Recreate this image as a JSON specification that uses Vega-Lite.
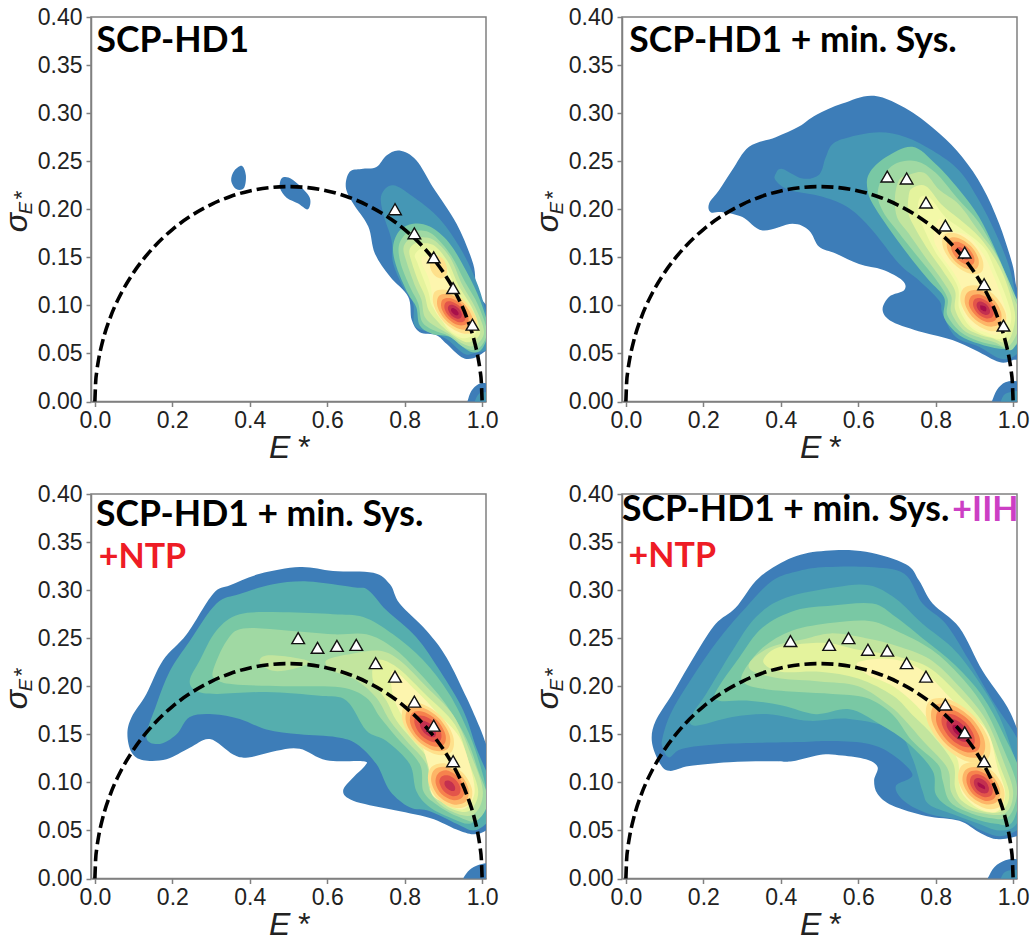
{"$schema":"https://vega.github.io/schema/vega-lite/v6.json","padding":{"left":-1,"top":5,"right":0,"bottom":0},"bounds":"flush","columns":2,"spacing":{"row":92,"column":136},
"config":{"view":{"stroke":"#808080","strokeWidth":1.5},"font":"Liberation Sans","axis":{"grid":false,"labelFont":"Liberation Sans","labelFontSize":23,"labelColor":"#222222","labelPadding":4,"tickSize":5,"tickColor":"#808080","tickWidth":1.5,"domainColor":"#808080","domainWidth":1.5,"titleFont":"Liberation Sans","titleFontSize":32,"titleFontStyle":"italic","titleFontWeight":"normal","titleColor":"#222222","labelOverlap":false,"labelFlush":false}},
"datasets":{
"arc":[{"x":0,"y":0},{"x":0.002,"y":0.02},{"x":0.005,"y":0.0315},{"x":0.01,"y":0.0445},{"x":0.02,"y":0.0626},{"x":0.04,"y":0.0876},{"x":0.07,"y":0.1141},{"x":0.1,"y":0.1342},{"x":0.15,"y":0.1597},{"x":0.2,"y":0.1789},{"x":0.25,"y":0.1936},{"x":0.3,"y":0.2049},{"x":0.35,"y":0.2133},{"x":0.4,"y":0.2191},{"x":0.45,"y":0.2225},{"x":0.5,"y":0.2236},{"x":0.55,"y":0.2225},{"x":0.6,"y":0.2191},{"x":0.65,"y":0.2133},{"x":0.7,"y":0.2049},{"x":0.75,"y":0.1936},{"x":0.8,"y":0.1789},{"x":0.85,"y":0.1597},{"x":0.9,"y":0.1342},{"x":0.93,"y":0.1141},{"x":0.96,"y":0.0876},{"x":0.98,"y":0.0626},{"x":0.99,"y":0.0445},{"x":0.995,"y":0.0315},{"x":0.998,"y":0.02},{"x":1,"y":0}],
"triA":[{"x":0.775,"y":0.2},{"x":0.825,"y":0.175},{"x":0.875,"y":0.15},{"x":0.925,"y":0.118},{"x":0.975,"y":0.08}],
"triB":[{"x":0.675,"y":0.234},{"x":0.725,"y":0.232},{"x":0.775,"y":0.207},{"x":0.825,"y":0.183},{"x":0.875,"y":0.155},{"x":0.925,"y":0.122},{"x":0.975,"y":0.079}],
"triC":[{"x":0.525,"y":0.25},{"x":0.575,"y":0.24},{"x":0.625,"y":0.242},{"x":0.675,"y":0.243},{"x":0.725,"y":0.224},{"x":0.775,"y":0.21},{"x":0.825,"y":0.184},{"x":0.875,"y":0.159},{"x":0.925,"y":0.122}],
"triD":[{"x":0.425,"y":0.247},{"x":0.525,"y":0.243},{"x":0.575,"y":0.25},{"x":0.625,"y":0.238},{"x":0.675,"y":0.237},{"x":0.725,"y":0.224},{"x":0.775,"y":0.21},{"x":0.825,"y":0.181},{"x":0.875,"y":0.152},{"x":0.925,"y":0.122}],
"A":[
{"l":0,"s":0,"x":0.38,"y":0.245},{"l":0,"s":0,"x":0.39,"y":0.235},{"l":0,"s":0,"x":0.385,"y":0.222},{"l":0,"s":0,"x":0.365,"y":0.221},{"l":0,"s":0,"x":0.352,"y":0.23},{"l":0,"s":0,"x":0.36,"y":0.24},
{"l":0,"s":1,"x":0.5,"y":0.233},{"l":0,"s":1,"x":0.525,"y":0.226},{"l":0,"s":1,"x":0.555,"y":0.212},{"l":0,"s":1,"x":0.55,"y":0.2},{"l":0,"s":1,"x":0.525,"y":0.206},{"l":0,"s":1,"x":0.495,"y":0.212},{"l":0,"s":1,"x":0.478,"y":0.222},{"l":0,"s":1,"x":0.482,"y":0.232},
{"l":0,"s":2,"x":0.955,"y":-0.01},{"l":0,"s":2,"x":0.962,"y":0},{"l":0,"s":2,"x":0.972,"y":0.011},{"l":0,"s":2,"x":0.99,"y":0.018},{"l":0,"s":2,"x":1.01,"y":0.019},{"l":0,"s":2,"x":1.04,"y":0.015},{"l":0,"s":2,"x":1.04,"y":-0.01},
{"l":0,"s":3,"x":0.787,"y":0.261},{"l":0,"s":3,"x":0.83,"y":0.251},{"l":0,"s":3,"x":0.873,"y":0.223},{"l":0,"s":3,"x":0.934,"y":0.185},{"l":0,"s":3,"x":0.977,"y":0.143},{"l":0,"s":3,"x":0.985,"y":0.116},{"l":0,"s":3,"x":1.011,"y":0.1},{"l":0,"s":3,"x":1.03,"y":0.09},{"l":0,"s":3,"x":1.03,"y":0.06},{"l":0,"s":3,"x":1.011,"y":0.053},{"l":0,"s":3,"x":0.977,"y":0.045},{"l":0,"s":3,"x":0.947,"y":0.046},{"l":0,"s":3,"x":0.908,"y":0.06},{"l":0,"s":3,"x":0.882,"y":0.069},{"l":0,"s":3,"x":0.839,"y":0.072},{"l":0,"s":3,"x":0.818,"y":0.085},{"l":0,"s":3,"x":0.809,"y":0.109},{"l":0,"s":3,"x":0.762,"y":0.13},{"l":0,"s":3,"x":0.723,"y":0.154},{"l":0,"s":3,"x":0.706,"y":0.182},{"l":0,"s":3,"x":0.667,"y":0.206},{"l":0,"s":3,"x":0.648,"y":0.223},{"l":0,"s":3,"x":0.658,"y":0.239},{"l":0,"s":3,"x":0.688,"y":0.242},{"l":0,"s":3,"x":0.727,"y":0.244},{"l":0,"s":3,"x":0.753,"y":0.256},
{"l":1,"s":2,"x":0.975,"y":-0.01},{"l":1,"s":2,"x":0.981,"y":0},{"l":1,"s":2,"x":0.992,"y":0.008},{"l":1,"s":2,"x":1.01,"y":0.01},{"l":1,"s":2,"x":1.04,"y":0.01},{"l":1,"s":2,"x":1.04,"y":-0.01},
{"l":1,"s":3,"x":0.77,"y":0.225},{"l":1,"s":3,"x":0.822,"y":0.213},{"l":1,"s":3,"x":0.89,"y":0.19},{"l":1,"s":3,"x":0.95,"y":0.155},{"l":1,"s":3,"x":0.99,"y":0.12},{"l":1,"s":3,"x":1.012,"y":0.091},{"l":1,"s":3,"x":1.03,"y":0.075},{"l":1,"s":3,"x":1.02,"y":0.056},{"l":1,"s":3,"x":0.977,"y":0.05},{"l":1,"s":3,"x":0.952,"y":0.05},{"l":1,"s":3,"x":0.908,"y":0.065},{"l":1,"s":3,"x":0.865,"y":0.072},{"l":1,"s":3,"x":0.826,"y":0.079},{"l":1,"s":3,"x":0.822,"y":0.102},{"l":1,"s":3,"x":0.796,"y":0.119},{"l":1,"s":3,"x":0.77,"y":0.144},{"l":1,"s":3,"x":0.766,"y":0.168},{"l":1,"s":3,"x":0.744,"y":0.196},{"l":1,"s":3,"x":0.74,"y":0.215},
{"l":3,"s":3,"x":0.822,"y":0.185},{"l":3,"s":3,"x":0.865,"y":0.182},{"l":3,"s":3,"x":0.915,"y":0.165},{"l":3,"s":3,"x":0.96,"y":0.135},{"l":3,"s":3,"x":0.995,"y":0.105},{"l":3,"s":3,"x":1.015,"y":0.076},{"l":3,"s":3,"x":1,"y":0.055},{"l":3,"s":3,"x":0.968,"y":0.052},{"l":3,"s":3,"x":0.917,"y":0.067},{"l":3,"s":3,"x":0.873,"y":0.07},{"l":3,"s":3,"x":0.839,"y":0.079},{"l":3,"s":3,"x":0.83,"y":0.098},{"l":3,"s":3,"x":0.809,"y":0.112},{"l":3,"s":3,"x":0.779,"y":0.14},{"l":3,"s":3,"x":0.77,"y":0.161},{"l":3,"s":3,"x":0.787,"y":0.178},
{"l":4,"s":3,"x":0.835,"y":0.178},{"l":4,"s":3,"x":0.872,"y":0.174},{"l":4,"s":3,"x":0.92,"y":0.152},{"l":4,"s":3,"x":0.955,"y":0.125},{"l":4,"s":3,"x":0.99,"y":0.1},{"l":4,"s":3,"x":1.012,"y":0.072},{"l":4,"s":3,"x":0.99,"y":0.055},{"l":4,"s":3,"x":0.955,"y":0.056},{"l":4,"s":3,"x":0.915,"y":0.068},{"l":4,"s":3,"x":0.875,"y":0.074},{"l":4,"s":3,"x":0.845,"y":0.083},{"l":4,"s":3,"x":0.835,"y":0.102},{"l":4,"s":3,"x":0.815,"y":0.118},{"l":4,"s":3,"x":0.79,"y":0.143},{"l":4,"s":3,"x":0.785,"y":0.162},{"l":4,"s":3,"x":0.805,"y":0.175},
{"l":5,"s":3,"x":0.84,"y":0.171},{"l":5,"s":3,"x":0.875,"y":0.168},{"l":5,"s":3,"x":0.917,"y":0.15},{"l":5,"s":3,"x":0.948,"y":0.122},{"l":5,"s":3,"x":0.982,"y":0.098},{"l":5,"s":3,"x":1.005,"y":0.072},{"l":5,"s":3,"x":0.98,"y":0.058},{"l":5,"s":3,"x":0.95,"y":0.06},{"l":5,"s":3,"x":0.915,"y":0.07},{"l":5,"s":3,"x":0.88,"y":0.078},{"l":5,"s":3,"x":0.852,"y":0.088},{"l":5,"s":3,"x":0.843,"y":0.106},{"l":5,"s":3,"x":0.825,"y":0.122},{"l":5,"s":3,"x":0.805,"y":0.145},{"l":5,"s":3,"x":0.797,"y":0.16},{"l":5,"s":3,"x":0.815,"y":0.17},
{"l":6,"s":3,"x":0.845,"y":0.165},{"l":6,"s":3,"x":0.877,"y":0.162},{"l":6,"s":3,"x":0.912,"y":0.145},{"l":6,"s":3,"x":0.94,"y":0.12},{"l":6,"s":3,"x":0.975,"y":0.097},{"l":6,"s":3,"x":0.995,"y":0.072},{"l":6,"s":3,"x":0.97,"y":0.062},{"l":6,"s":3,"x":0.945,"y":0.064},{"l":6,"s":3,"x":0.915,"y":0.072},{"l":6,"s":3,"x":0.888,"y":0.082},{"l":6,"s":3,"x":0.862,"y":0.095},{"l":6,"s":3,"x":0.852,"y":0.11},{"l":6,"s":3,"x":0.835,"y":0.125},{"l":6,"s":3,"x":0.818,"y":0.145},{"l":6,"s":3,"x":0.812,"y":0.157},{"l":6,"s":3,"x":0.825,"y":0.164},
{"l":7,"s":3,"x":0.85,"y":0.158},{"l":7,"s":3,"x":0.877,"y":0.156},{"l":7,"s":3,"x":0.91,"y":0.138},{"l":7,"s":3,"x":0.935,"y":0.115},{"l":7,"s":3,"x":0.968,"y":0.095},{"l":7,"s":3,"x":0.985,"y":0.073},{"l":7,"s":3,"x":0.96,"y":0.066},{"l":7,"s":3,"x":0.935,"y":0.068},{"l":7,"s":3,"x":0.91,"y":0.076},{"l":7,"s":3,"x":0.893,"y":0.088},{"l":7,"s":3,"x":0.87,"y":0.1},{"l":7,"s":3,"x":0.862,"y":0.113},{"l":7,"s":3,"x":0.848,"y":0.128},{"l":7,"s":3,"x":0.832,"y":0.145},{"l":7,"s":3,"x":0.826,"y":0.152},{"l":7,"s":3,"x":0.838,"y":0.158},
{"l":8,"s":3,"x":0.855,"y":0.151},{"l":8,"s":3,"x":0.878,"y":0.15},{"l":8,"s":3,"x":0.905,"y":0.132},{"l":8,"s":3,"x":0.925,"y":0.113},{"l":8,"s":3,"x":0.96,"y":0.095},{"l":8,"s":3,"x":0.975,"y":0.075},{"l":8,"s":3,"x":0.95,"y":0.07},{"l":8,"s":3,"x":0.925,"y":0.072},{"l":8,"s":3,"x":0.905,"y":0.08},{"l":8,"s":3,"x":0.88,"y":0.093},{"l":8,"s":3,"x":0.872,"y":0.104},{"l":8,"s":3,"x":0.868,"y":0.118},{"l":8,"s":3,"x":0.86,"y":0.13},{"l":8,"s":3,"x":0.845,"y":0.143},{"l":8,"s":3,"x":0.845,"y":0.15},
{"l":9,"s":3,"x":0.875,"y":0.152},{"l":9,"s":3,"x":0.9,"y":0.148},{"l":9,"s":3,"x":0.91,"y":0.135},{"l":9,"s":3,"x":0.895,"y":0.128},{"l":9,"s":3,"x":0.875,"y":0.132},{"l":9,"s":3,"x":0.865,"y":0.142},
{"l":9,"s":4,"x":0.98,"y":0.0727},{"l":9,"s":4,"x":0.985,"y":0.0865},{"l":9,"s":4,"x":0.956,"y":0.1043},{"l":9,"s":4,"x":0.913,"y":0.1155},{"l":9,"s":4,"x":0.878,"y":0.1141},{"l":9,"s":4,"x":0.875,"y":0.1003},{"l":9,"s":4,"x":0.902,"y":0.0825},{"l":9,"s":4,"x":0.946,"y":0.0713},
{"l":10,"s":4,"x":0.97,"y":0.0769},{"l":10,"s":4,"x":0.974,"y":0.0883},{"l":10,"s":4,"x":0.952,"y":0.1026},{"l":10,"s":4,"x":0.917,"y":0.1114},{"l":10,"s":4,"x":0.889,"y":0.1099},{"l":10,"s":4,"x":0.885,"y":0.0986},{"l":10,"s":4,"x":0.907,"y":0.0842},{"l":10,"s":4,"x":0.942,"y":0.0754},
{"l":11,"s":4,"x":0.961,"y":0.0808},{"l":11,"s":4,"x":0.964,"y":0.0893},{"l":11,"s":4,"x":0.948,"y":0.1007},{"l":11,"s":4,"x":0.92,"y":0.1073},{"l":11,"s":4,"x":0.898,"y":0.106},{"l":11,"s":4,"x":0.895,"y":0.0971},{"l":11,"s":4,"x":0.912,"y":0.0861},{"l":11,"s":4,"x":0.938,"y":0.0795},
{"l":12,"s":4,"x":0.954,"y":0.0837},{"l":12,"s":4,"x":0.956,"y":0.0903},{"l":12,"s":4,"x":0.943,"y":0.0987},{"l":12,"s":4,"x":0.922,"y":0.1038},{"l":12,"s":4,"x":0.906,"y":0.1031},{"l":12,"s":4,"x":0.903,"y":0.0966},{"l":12,"s":4,"x":0.916,"y":0.0881},{"l":12,"s":4,"x":0.937,"y":0.0828},
{"l":13,"s":4,"x":0.945,"y":0.0871},{"l":13,"s":4,"x":0.947,"y":0.0915},{"l":13,"s":4,"x":0.939,"y":0.097},{"l":13,"s":4,"x":0.925,"y":0.1005},{"l":13,"s":4,"x":0.914,"y":0.0997},{"l":13,"s":4,"x":0.912,"y":0.0956},{"l":13,"s":4,"x":0.92,"y":0.0898},{"l":13,"s":4,"x":0.934,"y":0.0863},
{"l":14,"s":4,"x":0.938,"y":0.09},{"l":14,"s":4,"x":0.939,"y":0.0923},{"l":14,"s":4,"x":0.934,"y":0.0953},{"l":14,"s":4,"x":0.927,"y":0.0971},{"l":14,"s":4,"x":0.921,"y":0.0968},{"l":14,"s":4,"x":0.92,"y":0.0943},{"l":14,"s":4,"x":0.925,"y":0.0915},{"l":14,"s":4,"x":0.932,"y":0.0897}
],
"B":[
{"l":0,"s":2,"x":0.935,"y":-0.01},{"l":0,"s":2,"x":0.945,"y":0},{"l":0,"s":2,"x":0.958,"y":0.012},{"l":0,"s":2,"x":0.98,"y":0.02},{"l":0,"s":2,"x":1.01,"y":0.021},{"l":0,"s":2,"x":1.04,"y":0.016},{"l":0,"s":2,"x":1.04,"y":-0.01},
{"l":0,"s":3,"x":0.641,"y":0.318},{"l":0,"s":3,"x":0.731,"y":0.303},{"l":0,"s":3,"x":0.809,"y":0.279},{"l":0,"s":3,"x":0.869,"y":0.254},{"l":0,"s":3,"x":0.921,"y":0.223},{"l":0,"s":3,"x":0.964,"y":0.185},{"l":0,"s":3,"x":0.998,"y":0.143},{"l":0,"s":3,"x":1.009,"y":0.119},{"l":0,"s":3,"x":1.03,"y":0.1},{"l":0,"s":3,"x":1.03,"y":0.05},{"l":0,"s":3,"x":0.998,"y":0.043},{"l":0,"s":3,"x":0.964,"y":0.041},{"l":0,"s":3,"x":0.904,"y":0.053},{"l":0,"s":3,"x":0.843,"y":0.064},{"l":0,"s":3,"x":0.766,"y":0.072},{"l":0,"s":3,"x":0.688,"y":0.083},{"l":0,"s":3,"x":0.663,"y":0.095},{"l":0,"s":3,"x":0.68,"y":0.109},{"l":0,"s":3,"x":0.719,"y":0.116},{"l":0,"s":3,"x":0.714,"y":0.126},{"l":0,"s":3,"x":0.663,"y":0.137},{"l":0,"s":3,"x":0.602,"y":0.143},{"l":0,"s":3,"x":0.542,"y":0.154},{"l":0,"s":3,"x":0.499,"y":0.161},{"l":0,"s":3,"x":0.473,"y":0.178},{"l":0,"s":3,"x":0.43,"y":0.185},{"l":0,"s":3,"x":0.353,"y":0.178},{"l":0,"s":3,"x":0.301,"y":0.192},{"l":0,"s":3,"x":0.25,"y":0.197},{"l":0,"s":3,"x":0.219,"y":0.197},{"l":0,"s":3,"x":0.215,"y":0.206},{"l":0,"s":3,"x":0.241,"y":0.22},{"l":0,"s":3,"x":0.275,"y":0.241},{"l":0,"s":3,"x":0.318,"y":0.265},{"l":0,"s":3,"x":0.387,"y":0.275},{"l":0,"s":3,"x":0.447,"y":0.286},{"l":0,"s":3,"x":0.491,"y":0.298},{"l":0,"s":3,"x":0.559,"y":0.31},
{"l":1,"s":2,"x":0.96,"y":-0.01},{"l":1,"s":2,"x":0.968,"y":0},{"l":1,"s":2,"x":0.98,"y":0.008},{"l":1,"s":2,"x":1.01,"y":0.011},{"l":1,"s":2,"x":1.04,"y":0.01},{"l":1,"s":2,"x":1.04,"y":-0.01},
{"l":1,"s":3,"x":0.654,"y":0.28},{"l":1,"s":3,"x":0.723,"y":0.275},{"l":1,"s":3,"x":0.792,"y":0.261},{"l":1,"s":3,"x":0.861,"y":0.24},{"l":1,"s":3,"x":0.912,"y":0.209},{"l":1,"s":3,"x":0.955,"y":0.175},{"l":1,"s":3,"x":0.99,"y":0.14},{"l":1,"s":3,"x":1.01,"y":0.105},{"l":1,"s":3,"x":1.03,"y":0.08},{"l":1,"s":3,"x":1.03,"y":0.06},{"l":1,"s":3,"x":0.998,"y":0.046},{"l":1,"s":3,"x":0.964,"y":0.045},{"l":1,"s":3,"x":0.912,"y":0.057},{"l":1,"s":3,"x":0.852,"y":0.067},{"l":1,"s":3,"x":0.818,"y":0.091},{"l":1,"s":3,"x":0.809,"y":0.105},{"l":1,"s":3,"x":0.757,"y":0.126},{"l":1,"s":3,"x":0.706,"y":0.143},{"l":1,"s":3,"x":0.637,"y":0.178},{"l":1,"s":3,"x":0.577,"y":0.201},{"l":1,"s":3,"x":0.508,"y":0.213},{"l":1,"s":3,"x":0.422,"y":0.22},{"l":1,"s":3,"x":0.387,"y":0.23},{"l":1,"s":3,"x":0.387,"y":0.237},{"l":1,"s":3,"x":0.404,"y":0.242},{"l":1,"s":3,"x":0.456,"y":0.232},{"l":1,"s":3,"x":0.499,"y":0.236},{"l":1,"s":3,"x":0.516,"y":0.254},{"l":1,"s":3,"x":0.534,"y":0.268},{"l":1,"s":3,"x":0.577,"y":0.275},
{"l":3,"s":3,"x":0.671,"y":0.254},{"l":3,"s":3,"x":0.74,"y":0.265},{"l":3,"s":3,"x":0.8,"y":0.247},{"l":3,"s":3,"x":0.861,"y":0.22},{"l":3,"s":3,"x":0.912,"y":0.192},{"l":3,"s":3,"x":0.955,"y":0.157},{"l":3,"s":3,"x":0.99,"y":0.122},{"l":3,"s":3,"x":1.01,"y":0.088},{"l":3,"s":3,"x":1.03,"y":0.07},{"l":3,"s":3,"x":1,"y":0.057},{"l":3,"s":3,"x":0.964,"y":0.055},{"l":3,"s":3,"x":0.912,"y":0.06},{"l":3,"s":3,"x":0.861,"y":0.069},{"l":3,"s":3,"x":0.822,"y":0.087},{"l":3,"s":3,"x":0.822,"y":0.108},{"l":3,"s":3,"x":0.783,"y":0.126},{"l":3,"s":3,"x":0.74,"y":0.147},{"l":3,"s":3,"x":0.688,"y":0.175},{"l":3,"s":3,"x":0.641,"y":0.203},{"l":3,"s":3,"x":0.624,"y":0.22},{"l":3,"s":3,"x":0.628,"y":0.237},
{"l":4,"s":3,"x":0.7,"y":0.248},{"l":4,"s":3,"x":0.75,"y":0.25},{"l":4,"s":3,"x":0.8,"y":0.238},{"l":4,"s":3,"x":0.855,"y":0.212},{"l":4,"s":3,"x":0.91,"y":0.187},{"l":4,"s":3,"x":0.955,"y":0.155},{"l":4,"s":3,"x":1,"y":0.115},{"l":4,"s":3,"x":1.025,"y":0.085},{"l":4,"s":3,"x":1,"y":0.055},{"l":4,"s":3,"x":0.96,"y":0.058},{"l":4,"s":3,"x":0.91,"y":0.063},{"l":4,"s":3,"x":0.865,"y":0.072},{"l":4,"s":3,"x":0.83,"y":0.09},{"l":4,"s":3,"x":0.83,"y":0.108},{"l":4,"s":3,"x":0.795,"y":0.13},{"l":4,"s":3,"x":0.755,"y":0.15},{"l":4,"s":3,"x":0.7,"y":0.178},{"l":4,"s":3,"x":0.665,"y":0.197},{"l":4,"s":3,"x":0.65,"y":0.215},{"l":4,"s":3,"x":0.665,"y":0.235},
{"l":5,"s":3,"x":0.725,"y":0.235},{"l":5,"s":3,"x":0.77,"y":0.238},{"l":5,"s":3,"x":0.81,"y":0.22},{"l":5,"s":3,"x":0.86,"y":0.205},{"l":5,"s":3,"x":0.91,"y":0.178},{"l":5,"s":3,"x":0.96,"y":0.15},{"l":5,"s":3,"x":1,"y":0.11},{"l":5,"s":3,"x":1.02,"y":0.085},{"l":5,"s":3,"x":0.99,"y":0.058},{"l":5,"s":3,"x":0.95,"y":0.062},{"l":5,"s":3,"x":0.91,"y":0.067},{"l":5,"s":3,"x":0.87,"y":0.075},{"l":5,"s":3,"x":0.84,"y":0.093},{"l":5,"s":3,"x":0.84,"y":0.11},{"l":5,"s":3,"x":0.81,"y":0.13},{"l":5,"s":3,"x":0.77,"y":0.152},{"l":5,"s":3,"x":0.73,"y":0.175},{"l":5,"s":3,"x":0.7,"y":0.192},{"l":5,"s":3,"x":0.695,"y":0.213},{"l":5,"s":3,"x":0.705,"y":0.23},
{"l":6,"s":3,"x":0.74,"y":0.222},{"l":6,"s":3,"x":0.775,"y":0.224},{"l":6,"s":3,"x":0.815,"y":0.205},{"l":6,"s":3,"x":0.86,"y":0.19},{"l":6,"s":3,"x":0.915,"y":0.17},{"l":6,"s":3,"x":0.965,"y":0.14},{"l":6,"s":3,"x":0.995,"y":0.108},{"l":6,"s":3,"x":1.005,"y":0.085},{"l":6,"s":3,"x":0.985,"y":0.062},{"l":6,"s":3,"x":0.945,"y":0.066},{"l":6,"s":3,"x":0.91,"y":0.07},{"l":6,"s":3,"x":0.875,"y":0.078},{"l":6,"s":3,"x":0.85,"y":0.096},{"l":6,"s":3,"x":0.85,"y":0.115},{"l":6,"s":3,"x":0.82,"y":0.135},{"l":6,"s":3,"x":0.785,"y":0.155},{"l":6,"s":3,"x":0.75,"y":0.178},{"l":6,"s":3,"x":0.73,"y":0.195},{"l":6,"s":3,"x":0.73,"y":0.213},
{"l":7,"s":3,"x":0.77,"y":0.214},{"l":7,"s":3,"x":0.79,"y":0.21},{"l":7,"s":3,"x":0.825,"y":0.192},{"l":7,"s":3,"x":0.865,"y":0.18},{"l":7,"s":3,"x":0.925,"y":0.16},{"l":7,"s":3,"x":0.955,"y":0.135},{"l":7,"s":3,"x":0.985,"y":0.105},{"l":7,"s":3,"x":0.995,"y":0.085},{"l":7,"s":3,"x":0.975,"y":0.066},{"l":7,"s":3,"x":0.935,"y":0.068},{"l":7,"s":3,"x":0.905,"y":0.073},{"l":7,"s":3,"x":0.88,"y":0.082},{"l":7,"s":3,"x":0.86,"y":0.098},{"l":7,"s":3,"x":0.858,"y":0.118},{"l":7,"s":3,"x":0.83,"y":0.138},{"l":7,"s":3,"x":0.8,"y":0.155},{"l":7,"s":3,"x":0.775,"y":0.175},{"l":7,"s":3,"x":0.755,"y":0.195},{"l":7,"s":3,"x":0.757,"y":0.21},
{"l":8,"s":3,"x":0.81,"y":0.19},{"l":8,"s":3,"x":0.84,"y":0.178},{"l":8,"s":3,"x":0.885,"y":0.172},{"l":8,"s":3,"x":0.925,"y":0.152},{"l":8,"s":3,"x":0.95,"y":0.13},{"l":8,"s":3,"x":0.975,"y":0.103},{"l":8,"s":3,"x":0.985,"y":0.085},{"l":8,"s":3,"x":0.96,"y":0.07},{"l":8,"s":3,"x":0.93,"y":0.072},{"l":8,"s":3,"x":0.895,"y":0.078},{"l":8,"s":3,"x":0.87,"y":0.095},{"l":8,"s":3,"x":0.866,"y":0.118},{"l":8,"s":3,"x":0.845,"y":0.135},{"l":8,"s":3,"x":0.815,"y":0.152},{"l":8,"s":3,"x":0.795,"y":0.17},
{"l":9,"s":3,"x":0.918,"y":0.1346},{"l":9,"s":3,"x":0.921,"y":0.1475},{"l":9,"s":3,"x":0.895,"y":0.1642},{"l":9,"s":3,"x":0.854,"y":0.1747},{"l":9,"s":3,"x":0.822,"y":0.1734},{"l":9,"s":3,"x":0.819,"y":0.1605},{"l":9,"s":3,"x":0.845,"y":0.1438},{"l":9,"s":3,"x":0.886,"y":0.1333},
{"l":9,"s":4,"x":0.974,"y":0.0763},{"l":9,"s":4,"x":0.981,"y":0.0913},{"l":9,"s":4,"x":0.954,"y":0.1096},{"l":9,"s":4,"x":0.91,"y":0.1203},{"l":9,"s":4,"x":0.872,"y":0.1177},{"l":9,"s":4,"x":0.865,"y":0.1027},{"l":9,"s":4,"x":0.892,"y":0.0844},{"l":9,"s":4,"x":0.937,"y":0.0737},
{"l":10,"s":3,"x":0.907,"y":0.1389},{"l":10,"s":3,"x":0.91,"y":0.149},{"l":10,"s":3,"x":0.89,"y":0.162},{"l":10,"s":3,"x":0.858,"y":0.1702},{"l":10,"s":3,"x":0.833,"y":0.1691},{"l":10,"s":3,"x":0.83,"y":0.159},{"l":10,"s":3,"x":0.85,"y":0.146},{"l":10,"s":3,"x":0.882,"y":0.1378},
{"l":10,"s":4,"x":0.964,"y":0.0805},{"l":10,"s":4,"x":0.969,"y":0.0925},{"l":10,"s":4,"x":0.948,"y":0.1072},{"l":10,"s":4,"x":0.915,"y":0.1157},{"l":10,"s":4,"x":0.882,"y":0.1135},{"l":10,"s":4,"x":0.876,"y":0.1015},{"l":10,"s":4,"x":0.898,"y":0.0868},{"l":10,"s":4,"x":0.934,"y":0.0783},
{"l":11,"s":3,"x":0.897,"y":0.1431},{"l":11,"s":3,"x":0.899,"y":0.1505},{"l":11,"s":3,"x":0.884,"y":0.1598},{"l":11,"s":3,"x":0.861,"y":0.1657},{"l":11,"s":3,"x":0.843,"y":0.1649},{"l":11,"s":3,"x":0.841,"y":0.1575},{"l":11,"s":3,"x":0.856,"y":0.1482},{"l":11,"s":3,"x":0.879,"y":0.1423},
{"l":11,"s":4,"x":0.954,"y":0.0844},{"l":11,"s":4,"x":0.958,"y":0.0937},{"l":11,"s":4,"x":0.942,"y":0.1048},{"l":11,"s":4,"x":0.915,"y":0.1113},{"l":11,"s":4,"x":0.892,"y":0.1096},{"l":11,"s":4,"x":0.886,"y":0.1003},{"l":11,"s":4,"x":0.904,"y":0.0892},{"l":11,"s":4,"x":0.931,"y":0.0827},
{"l":12,"s":3,"x":0.885,"y":0.1479},{"l":12,"s":3,"x":0.886,"y":0.1517},{"l":12,"s":3,"x":0.877,"y":0.1569},{"l":12,"s":3,"x":0.865,"y":0.1603},{"l":12,"s":3,"x":0.855,"y":0.1601},{"l":12,"s":3,"x":0.854,"y":0.156},{"l":12,"s":3,"x":0.863,"y":0.1511},{"l":12,"s":3,"x":0.875,"y":0.1477},
{"l":12,"s":4,"x":0.946,"y":0.0878},{"l":12,"s":4,"x":0.949,"y":0.0947},{"l":12,"s":4,"x":0.937,"y":0.1028},{"l":12,"s":4,"x":0.917,"y":0.1075},{"l":12,"s":4,"x":0.9,"y":0.1062},{"l":12,"s":4,"x":0.897,"y":0.0993},{"l":12,"s":4,"x":0.909,"y":0.0912},{"l":12,"s":4,"x":0.929,"y":0.0865},
{"l":13,"s":4,"x":0.938,"y":0.0909},{"l":13,"s":4,"x":0.94,"y":0.0952},{"l":13,"s":4,"x":0.932,"y":0.1006},{"l":13,"s":4,"x":0.919,"y":0.1038},{"l":13,"s":4,"x":0.908,"y":0.1031},{"l":13,"s":4,"x":0.906,"y":0.0988},{"l":13,"s":4,"x":0.914,"y":0.0934},{"l":13,"s":4,"x":0.927,"y":0.0902},
{"l":14,"s":4,"x":0.93,"y":0.0941},{"l":14,"s":4,"x":0.931,"y":0.097},{"l":14,"s":4,"x":0.927,"y":0.099},{"l":14,"s":4,"x":0.918,"y":0.1},{"l":14,"s":4,"x":0.915,"y":0.0995},{"l":14,"s":4,"x":0.916,"y":0.096},{"l":14,"s":4,"x":0.92,"y":0.095},{"l":14,"s":4,"x":0.926,"y":0.0938}
],
"C":[
{"l":0,"s":2,"x":0.94,"y":-0.01},{"l":0,"s":2,"x":0.951,"y":0},{"l":0,"s":2,"x":0.968,"y":0.009},{"l":0,"s":2,"x":0.99,"y":0.014},{"l":0,"s":2,"x":1.02,"y":0.016},{"l":0,"s":2,"x":1.04,"y":0.012},{"l":0,"s":2,"x":1.04,"y":-0.01},
{"l":0,"s":3,"x":0.529,"y":0.324},{"l":0,"s":3,"x":0.615,"y":0.32},{"l":0,"s":3,"x":0.719,"y":0.318},{"l":0,"s":3,"x":0.762,"y":0.306},{"l":0,"s":3,"x":0.787,"y":0.286},{"l":0,"s":3,"x":0.856,"y":0.258},{"l":0,"s":3,"x":0.908,"y":0.23},{"l":0,"s":3,"x":0.96,"y":0.188},{"l":0,"s":3,"x":0.994,"y":0.157},{"l":0,"s":3,"x":1.01,"y":0.14},{"l":0,"s":3,"x":1.03,"y":0.12},{"l":0,"s":3,"x":1.03,"y":0.06},{"l":0,"s":3,"x":1.01,"y":0.05},{"l":0,"s":3,"x":0.977,"y":0.046},{"l":0,"s":3,"x":0.934,"y":0.051},{"l":0,"s":3,"x":0.865,"y":0.063},{"l":0,"s":3,"x":0.762,"y":0.072},{"l":0,"s":3,"x":0.667,"y":0.081},{"l":0,"s":3,"x":0.641,"y":0.091},{"l":0,"s":3,"x":0.667,"y":0.105},{"l":0,"s":3,"x":0.697,"y":0.117},{"l":0,"s":3,"x":0.693,"y":0.122},{"l":0,"s":3,"x":0.598,"y":0.123},{"l":0,"s":3,"x":0.529,"y":0.135},{"l":0,"s":3,"x":0.469,"y":0.133},{"l":0,"s":3,"x":0.396,"y":0.126},{"l":0,"s":3,"x":0.357,"y":0.129},{"l":0,"s":3,"x":0.297,"y":0.145},{"l":0,"s":3,"x":0.245,"y":0.136},{"l":0,"s":3,"x":0.185,"y":0.124},{"l":0,"s":3,"x":0.125,"y":0.123},{"l":0,"s":3,"x":0.095,"y":0.131},{"l":0,"s":3,"x":0.084,"y":0.15},{"l":0,"s":3,"x":0.095,"y":0.168},{"l":0,"s":3,"x":0.133,"y":0.192},{"l":0,"s":3,"x":0.176,"y":0.227},{"l":0,"s":3,"x":0.237,"y":0.254},{"l":0,"s":3,"x":0.305,"y":0.296},{"l":0,"s":3,"x":0.349,"y":0.305},{"l":0,"s":3,"x":0.426,"y":0.317},
{"l":2,"s":3,"x":0.55,"y":0.309},{"l":2,"s":3,"x":0.667,"y":0.303},{"l":2,"s":3,"x":0.706,"y":0.3},{"l":2,"s":3,"x":0.753,"y":0.279},{"l":2,"s":3,"x":0.83,"y":0.251},{"l":2,"s":3,"x":0.891,"y":0.216},{"l":2,"s":3,"x":0.951,"y":0.175},{"l":2,"s":3,"x":0.985,"y":0.136},{"l":2,"s":3,"x":1.01,"y":0.112},{"l":2,"s":3,"x":1.03,"y":0.09},{"l":2,"s":3,"x":1.03,"y":0.07},{"l":2,"s":3,"x":1.01,"y":0.057},{"l":2,"s":3,"x":0.977,"y":0.05},{"l":2,"s":3,"x":0.934,"y":0.057},{"l":2,"s":3,"x":0.865,"y":0.07},{"l":2,"s":3,"x":0.813,"y":0.074},{"l":2,"s":3,"x":0.762,"y":0.091},{"l":2,"s":3,"x":0.727,"y":0.119},{"l":2,"s":3,"x":0.676,"y":0.14},{"l":2,"s":3,"x":0.624,"y":0.147},{"l":2,"s":3,"x":0.529,"y":0.15},{"l":2,"s":3,"x":0.443,"y":0.155},{"l":2,"s":3,"x":0.374,"y":0.166},{"l":2,"s":3,"x":0.305,"y":0.171},{"l":2,"s":3,"x":0.245,"y":0.168},{"l":2,"s":3,"x":0.211,"y":0.15},{"l":2,"s":3,"x":0.168,"y":0.14},{"l":2,"s":3,"x":0.133,"y":0.147},{"l":2,"s":3,"x":0.159,"y":0.181},{"l":2,"s":3,"x":0.194,"y":0.216},{"l":2,"s":3,"x":0.245,"y":0.247},{"l":2,"s":3,"x":0.314,"y":0.286},{"l":2,"s":3,"x":0.374,"y":0.296},{"l":2,"s":3,"x":0.46,"y":0.306},
{"l":3,"s":3,"x":0.374,"y":0.275},{"l":3,"s":3,"x":0.486,"y":0.277},{"l":3,"s":3,"x":0.615,"y":0.275},{"l":3,"s":3,"x":0.693,"y":0.272},{"l":3,"s":3,"x":0.77,"y":0.254},{"l":3,"s":3,"x":0.848,"y":0.227},{"l":3,"s":3,"x":0.915,"y":0.192},{"l":3,"s":3,"x":0.965,"y":0.152},{"l":3,"s":3,"x":0.994,"y":0.119},{"l":3,"s":3,"x":1.01,"y":0.091},{"l":3,"s":3,"x":1,"y":0.067},{"l":3,"s":3,"x":0.968,"y":0.057},{"l":3,"s":3,"x":0.925,"y":0.062},{"l":3,"s":3,"x":0.865,"y":0.074},{"l":3,"s":3,"x":0.83,"y":0.091},{"l":3,"s":3,"x":0.813,"y":0.119},{"l":3,"s":3,"x":0.753,"y":0.143},{"l":3,"s":3,"x":0.701,"y":0.154},{"l":3,"s":3,"x":0.65,"y":0.185},{"l":3,"s":3,"x":0.581,"y":0.19},{"l":3,"s":3,"x":0.443,"y":0.194},{"l":3,"s":3,"x":0.314,"y":0.192},{"l":3,"s":3,"x":0.262,"y":0.195},{"l":3,"s":3,"x":0.245,"y":0.206},{"l":3,"s":3,"x":0.271,"y":0.227},{"l":3,"s":3,"x":0.314,"y":0.258},
{"l":4,"s":3,"x":0.383,"y":0.26},{"l":4,"s":3,"x":0.495,"y":0.258},{"l":4,"s":3,"x":0.615,"y":0.254},{"l":4,"s":3,"x":0.701,"y":0.254},{"l":4,"s":3,"x":0.77,"y":0.24},{"l":4,"s":3,"x":0.835,"y":0.215},{"l":4,"s":3,"x":0.905,"y":0.182},{"l":4,"s":3,"x":0.96,"y":0.145},{"l":4,"s":3,"x":0.99,"y":0.112},{"l":4,"s":3,"x":1.015,"y":0.081},{"l":4,"s":3,"x":0.985,"y":0.06},{"l":4,"s":3,"x":0.934,"y":0.065},{"l":4,"s":3,"x":0.882,"y":0.077},{"l":4,"s":3,"x":0.848,"y":0.091},{"l":4,"s":3,"x":0.839,"y":0.119},{"l":4,"s":3,"x":0.779,"y":0.147},{"l":4,"s":3,"x":0.736,"y":0.168},{"l":4,"s":3,"x":0.701,"y":0.188},{"l":4,"s":3,"x":0.633,"y":0.199},{"l":4,"s":3,"x":0.486,"y":0.2},{"l":4,"s":3,"x":0.357,"y":0.202},{"l":4,"s":3,"x":0.314,"y":0.207},{"l":4,"s":3,"x":0.305,"y":0.216},{"l":4,"s":3,"x":0.34,"y":0.247},
{"l":5,"s":2,"x":0.443,"y":0.232},{"l":5,"s":2,"x":0.512,"y":0.23},{"l":5,"s":2,"x":0.555,"y":0.225},{"l":5,"s":2,"x":0.512,"y":0.218},{"l":5,"s":2,"x":0.46,"y":0.216},{"l":5,"s":2,"x":0.426,"y":0.225},
{"l":5,"s":3,"x":0.598,"y":0.227},{"l":5,"s":3,"x":0.667,"y":0.234},{"l":5,"s":3,"x":0.736,"y":0.237},{"l":5,"s":3,"x":0.787,"y":0.227},{"l":5,"s":3,"x":0.855,"y":0.2},{"l":5,"s":3,"x":0.925,"y":0.17},{"l":5,"s":3,"x":0.97,"y":0.13},{"l":5,"s":3,"x":1.002,"y":0.09},{"l":5,"s":3,"x":0.975,"y":0.066},{"l":5,"s":3,"x":0.91,"y":0.072},{"l":5,"s":3,"x":0.865,"y":0.091},{"l":5,"s":3,"x":0.856,"y":0.119},{"l":5,"s":3,"x":0.805,"y":0.143},{"l":5,"s":3,"x":0.762,"y":0.164},{"l":5,"s":3,"x":0.727,"y":0.188},{"l":5,"s":3,"x":0.676,"y":0.206},{"l":5,"s":3,"x":0.615,"y":0.216},
{"l":6,"s":3,"x":0.727,"y":0.227},{"l":6,"s":3,"x":0.779,"y":0.22},{"l":6,"s":3,"x":0.85,"y":0.193},{"l":6,"s":3,"x":0.93,"y":0.16},{"l":6,"s":3,"x":0.965,"y":0.122},{"l":6,"s":3,"x":0.99,"y":0.09},{"l":6,"s":3,"x":0.965,"y":0.07},{"l":6,"s":3,"x":0.91,"y":0.075},{"l":6,"s":3,"x":0.878,"y":0.091},{"l":6,"s":3,"x":0.869,"y":0.119},{"l":6,"s":3,"x":0.822,"y":0.143},{"l":6,"s":3,"x":0.779,"y":0.164},{"l":6,"s":3,"x":0.753,"y":0.185},{"l":6,"s":3,"x":0.718,"y":0.206},
{"l":8,"s":3,"x":0.77,"y":0.216},{"l":8,"s":3,"x":0.83,"y":0.195},{"l":8,"s":3,"x":0.885,"y":0.172},{"l":8,"s":3,"x":0.94,"y":0.148},{"l":8,"s":3,"x":0.97,"y":0.115},{"l":8,"s":3,"x":0.98,"y":0.088},{"l":8,"s":3,"x":0.95,"y":0.072},{"l":8,"s":3,"x":0.895,"y":0.08},{"l":8,"s":3,"x":0.868,"y":0.09},{"l":8,"s":3,"x":0.862,"y":0.115},{"l":8,"s":3,"x":0.835,"y":0.148},{"l":8,"s":3,"x":0.8,"y":0.165},{"l":8,"s":3,"x":0.77,"y":0.19},
{"l":9,"s":3,"x":0.92,"y":0.1313},{"l":9,"s":3,"x":0.925,"y":0.148},{"l":9,"s":3,"x":0.893,"y":0.169},{"l":9,"s":3,"x":0.841,"y":0.182},{"l":9,"s":3,"x":0.8,"y":0.1799},{"l":9,"s":3,"x":0.795,"y":0.1632},{"l":9,"s":3,"x":0.827,"y":0.1422},{"l":9,"s":3,"x":0.879,"y":0.1292},
{"l":9,"s":4,"x":0.965,"y":0.0771},{"l":9,"s":4,"x":0.974,"y":0.0923},{"l":9,"s":4,"x":0.95,"y":0.1099},{"l":9,"s":4,"x":0.907,"y":0.1195},{"l":9,"s":4,"x":0.869,"y":0.1159},{"l":9,"s":4,"x":0.861,"y":0.1007},{"l":9,"s":4,"x":0.884,"y":0.0831},{"l":9,"s":4,"x":0.928,"y":0.0735},
{"l":10,"s":3,"x":0.911,"y":0.1349},{"l":10,"s":3,"x":0.916,"y":0.149},{"l":10,"s":3,"x":0.888,"y":0.167},{"l":10,"s":3,"x":0.844,"y":0.1781},{"l":10,"s":3,"x":0.809,"y":0.1763},{"l":10,"s":3,"x":0.804,"y":0.1621},{"l":10,"s":3,"x":0.832,"y":0.1442},{"l":10,"s":3,"x":0.876,"y":0.1331},
{"l":10,"s":4,"x":0.958,"y":0.08},{"l":10,"s":4,"x":0.965,"y":0.0928},{"l":10,"s":4,"x":0.945,"y":0.1077},{"l":10,"s":4,"x":0.908,"y":0.1159},{"l":10,"s":4,"x":0.876,"y":0.113},{"l":10,"s":4,"x":0.869,"y":0.1002},{"l":10,"s":4,"x":0.889,"y":0.0853},{"l":10,"s":4,"x":0.926,"y":0.0771},
{"l":11,"s":3,"x":0.901,"y":0.1391},{"l":11,"s":3,"x":0.905,"y":0.15},{"l":11,"s":3,"x":0.883,"y":0.1648},{"l":11,"s":3,"x":0.847,"y":0.1736},{"l":11,"s":3,"x":0.819,"y":0.1721},{"l":11,"s":3,"x":0.815,"y":0.1608},{"l":11,"s":3,"x":0.837,"y":0.1464},{"l":11,"s":3,"x":0.873,"y":0.1376},
{"l":11,"s":4,"x":0.948,"y":0.0839},{"l":11,"s":4,"x":0.954,"y":0.0937},{"l":11,"s":4,"x":0.939,"y":0.1052},{"l":11,"s":4,"x":0.91,"y":0.1124},{"l":11,"s":4,"x":0.886,"y":0.1091},{"l":11,"s":4,"x":0.88,"y":0.0994},{"l":11,"s":4,"x":0.895,"y":0.0878},{"l":11,"s":4,"x":0.924,"y":0.0816},
{"l":12,"s":3,"x":0.891,"y":0.143},{"l":12,"s":3,"x":0.894,"y":0.1515},{"l":12,"s":3,"x":0.877,"y":0.1624},{"l":12,"s":3,"x":0.85,"y":0.169},{"l":12,"s":3,"x":0.829,"y":0.1682},{"l":12,"s":3,"x":0.826,"y":0.1604},{"l":12,"s":3,"x":0.843,"y":0.1488},{"l":12,"s":3,"x":0.87,"y":0.1423},
{"l":12,"s":4,"x":0.94,"y":0.0873},{"l":12,"s":4,"x":0.944,"y":0.0943},{"l":12,"s":4,"x":0.932,"y":0.1026},{"l":12,"s":4,"x":0.911,"y":0.1073},{"l":12,"s":4,"x":0.894,"y":0.1057},{"l":12,"s":4,"x":0.89,"y":0.0993},{"l":12,"s":4,"x":0.902,"y":0.0904},{"l":12,"s":4,"x":0.922,"y":0.0858},
{"l":13,"s":3,"x":0.879,"y":0.1478},{"l":13,"s":3,"x":0.88,"y":0.1529},{"l":13,"s":3,"x":0.87,"y":0.1595},{"l":13,"s":3,"x":0.853,"y":0.1637},{"l":13,"s":3,"x":0.841,"y":0.1634},{"l":13,"s":3,"x":0.84,"y":0.1583},{"l":13,"s":3,"x":0.85,"y":0.1517},{"l":13,"s":3,"x":0.867,"y":0.1473},
{"l":13,"s":4,"x":0.929,"y":0.0916},{"l":13,"s":4,"x":0.93,"y":0.0951},{"l":13,"s":4,"x":0.924,"y":0.0994},{"l":13,"s":4,"x":0.913,"y":0.1019},{"l":13,"s":4,"x":0.905,"y":0.1014},{"l":13,"s":4,"x":0.903,"y":0.0979},{"l":13,"s":4,"x":0.91,"y":0.0936},{"l":13,"s":4,"x":0.921,"y":0.0911}
],
"D":[
{"l":0,"s":2,"x":0.92,"y":-0.01},{"l":0,"s":2,"x":0.934,"y":0},{"l":0,"s":2,"x":0.952,"y":0.012},{"l":0,"s":2,"x":0.98,"y":0.019},{"l":0,"s":2,"x":1.01,"y":0.02},{"l":0,"s":2,"x":1.04,"y":0.015},{"l":0,"s":2,"x":1.04,"y":-0.01},
{"l":0,"s":3,"x":0.516,"y":0.341},{"l":0,"s":3,"x":0.62,"y":0.34},{"l":0,"s":3,"x":0.723,"y":0.327},{"l":0,"s":3,"x":0.757,"y":0.31},{"l":0,"s":3,"x":0.792,"y":0.286},{"l":0,"s":3,"x":0.861,"y":0.261},{"l":0,"s":3,"x":0.921,"y":0.216},{"l":0,"s":3,"x":0.981,"y":0.181},{"l":0,"s":3,"x":1.009,"y":0.157},{"l":0,"s":3,"x":1.03,"y":0.13},{"l":0,"s":3,"x":1.03,"y":0.05},{"l":0,"s":3,"x":1.009,"y":0.044},{"l":0,"s":3,"x":0.955,"y":0.041},{"l":0,"s":3,"x":0.912,"y":0.048},{"l":0,"s":3,"x":0.861,"y":0.06},{"l":0,"s":3,"x":0.775,"y":0.065},{"l":0,"s":3,"x":0.688,"y":0.076},{"l":0,"s":3,"x":0.65,"y":0.088},{"l":0,"s":3,"x":0.641,"y":0.102},{"l":0,"s":3,"x":0.65,"y":0.116},{"l":0,"s":3,"x":0.62,"y":0.124},{"l":0,"s":3,"x":0.559,"y":0.128},{"l":0,"s":3,"x":0.508,"y":0.129},{"l":0,"s":3,"x":0.43,"y":0.122},{"l":0,"s":3,"x":0.379,"y":0.122},{"l":0,"s":3,"x":0.267,"y":0.121},{"l":0,"s":3,"x":0.164,"y":0.117},{"l":0,"s":3,"x":0.112,"y":0.112},{"l":0,"s":3,"x":0.086,"y":0.121},{"l":0,"s":3,"x":0.067,"y":0.143},{"l":0,"s":3,"x":0.077,"y":0.164},{"l":0,"s":3,"x":0.12,"y":0.192},{"l":0,"s":3,"x":0.181,"y":0.234},{"l":0,"s":3,"x":0.232,"y":0.265},{"l":0,"s":3,"x":0.284,"y":0.282},{"l":0,"s":3,"x":0.344,"y":0.313},{"l":0,"s":3,"x":0.43,"y":0.334},
{"l":1,"s":2,"x":0.96,"y":-0.01},{"l":1,"s":2,"x":0.968,"y":0},{"l":1,"s":2,"x":0.98,"y":0.007},{"l":1,"s":2,"x":1.01,"y":0.009},{"l":1,"s":2,"x":1.04,"y":0.008},{"l":1,"s":2,"x":1.04,"y":-0.01},
{"l":1,"s":3,"x":0.516,"y":0.324},{"l":1,"s":3,"x":0.628,"y":0.324},{"l":1,"s":3,"x":0.719,"y":0.317},{"l":1,"s":3,"x":0.766,"y":0.286},{"l":1,"s":3,"x":0.826,"y":0.265},{"l":1,"s":3,"x":0.886,"y":0.227},{"l":1,"s":3,"x":0.947,"y":0.185},{"l":1,"s":3,"x":1.009,"y":0.147},{"l":1,"s":3,"x":1.03,"y":0.12},{"l":1,"s":3,"x":1.03,"y":0.06},{"l":1,"s":3,"x":1.009,"y":0.05},{"l":1,"s":3,"x":0.964,"y":0.044},{"l":1,"s":3,"x":0.912,"y":0.051},{"l":1,"s":3,"x":0.869,"y":0.06},{"l":1,"s":3,"x":0.783,"y":0.067},{"l":1,"s":3,"x":0.72,"y":0.08},{"l":1,"s":3,"x":0.697,"y":0.096},{"l":1,"s":3,"x":0.74,"y":0.108},{"l":1,"s":3,"x":0.688,"y":0.129},{"l":1,"s":3,"x":0.628,"y":0.14},{"l":1,"s":3,"x":0.534,"y":0.143},{"l":1,"s":3,"x":0.447,"y":0.142},{"l":1,"s":3,"x":0.25,"y":0.14},{"l":1,"s":3,"x":0.146,"y":0.135},{"l":1,"s":3,"x":0.112,"y":0.126},{"l":1,"s":3,"x":0.095,"y":0.136},{"l":1,"s":3,"x":0.095,"y":0.147},{"l":1,"s":3,"x":0.12,"y":0.175},{"l":1,"s":3,"x":0.189,"y":0.22},{"l":1,"s":3,"x":0.25,"y":0.254},{"l":1,"s":3,"x":0.31,"y":0.282},{"l":1,"s":3,"x":0.379,"y":0.31},{"l":1,"s":3,"x":0.447,"y":0.32},
{"l":2,"s":3,"x":0.542,"y":0.303},{"l":2,"s":3,"x":0.628,"y":0.305},{"l":2,"s":3,"x":0.697,"y":0.291},{"l":2,"s":3,"x":0.766,"y":0.265},{"l":2,"s":3,"x":0.843,"y":0.24},{"l":2,"s":3,"x":0.904,"y":0.209},{"l":2,"s":3,"x":0.965,"y":0.168},{"l":2,"s":3,"x":1.009,"y":0.119},{"l":2,"s":3,"x":1.03,"y":0.09},{"l":2,"s":3,"x":1.009,"y":0.057},{"l":2,"s":3,"x":0.964,"y":0.05},{"l":2,"s":3,"x":0.904,"y":0.058},{"l":2,"s":3,"x":0.843,"y":0.067},{"l":2,"s":3,"x":0.783,"y":0.077},{"l":2,"s":3,"x":0.766,"y":0.091},{"l":2,"s":3,"x":0.74,"y":0.125},{"l":2,"s":3,"x":0.697,"y":0.154},{"l":2,"s":3,"x":0.577,"y":0.166},{"l":2,"s":3,"x":0.473,"y":0.164},{"l":2,"s":3,"x":0.37,"y":0.171},{"l":2,"s":3,"x":0.275,"y":0.168},{"l":2,"s":3,"x":0.181,"y":0.159},{"l":2,"s":3,"x":0.168,"y":0.168},{"l":2,"s":3,"x":0.207,"y":0.192},{"l":2,"s":3,"x":0.275,"y":0.237},{"l":2,"s":3,"x":0.336,"y":0.272},{"l":2,"s":3,"x":0.413,"y":0.292},
{"l":3,"s":3,"x":0.534,"y":0.284},{"l":3,"s":3,"x":0.637,"y":0.286},{"l":3,"s":3,"x":0.697,"y":0.272},{"l":3,"s":3,"x":0.775,"y":0.247},{"l":3,"s":3,"x":0.85,"y":0.222},{"l":3,"s":3,"x":0.92,"y":0.19},{"l":3,"s":3,"x":0.975,"y":0.15},{"l":3,"s":3,"x":1.02,"y":0.105},{"l":3,"s":3,"x":1,"y":0.06},{"l":3,"s":3,"x":0.955,"y":0.057},{"l":3,"s":3,"x":0.895,"y":0.063},{"l":3,"s":3,"x":0.835,"y":0.074},{"l":3,"s":3,"x":0.8,"y":0.088},{"l":3,"s":3,"x":0.792,"y":0.112},{"l":3,"s":3,"x":0.731,"y":0.14},{"l":3,"s":3,"x":0.654,"y":0.161},{"l":3,"s":3,"x":0.577,"y":0.176},{"l":3,"s":3,"x":0.491,"y":0.171},{"l":3,"s":3,"x":0.404,"y":0.18},{"l":3,"s":3,"x":0.318,"y":0.185},{"l":3,"s":3,"x":0.241,"y":0.185},{"l":3,"s":3,"x":0.232,"y":0.194},{"l":3,"s":3,"x":0.293,"y":0.23},{"l":3,"s":3,"x":0.353,"y":0.261},{"l":3,"s":3,"x":0.439,"y":0.279},
{"l":4,"s":3,"x":0.534,"y":0.266},{"l":4,"s":3,"x":0.628,"y":0.268},{"l":4,"s":3,"x":0.697,"y":0.258},{"l":4,"s":3,"x":0.79,"y":0.238},{"l":4,"s":3,"x":0.865,"y":0.21},{"l":4,"s":3,"x":0.925,"y":0.178},{"l":4,"s":3,"x":0.975,"y":0.135},{"l":4,"s":3,"x":1.01,"y":0.095},{"l":4,"s":3,"x":0.99,"y":0.065},{"l":4,"s":3,"x":0.938,"y":0.063},{"l":4,"s":3,"x":0.878,"y":0.07},{"l":4,"s":3,"x":0.835,"y":0.081},{"l":4,"s":3,"x":0.818,"y":0.102},{"l":4,"s":3,"x":0.805,"y":0.119},{"l":4,"s":3,"x":0.74,"y":0.143},{"l":4,"s":3,"x":0.688,"y":0.171},{"l":4,"s":3,"x":0.62,"y":0.188},{"l":4,"s":3,"x":0.534,"y":0.192},{"l":4,"s":3,"x":0.447,"y":0.194},{"l":4,"s":3,"x":0.361,"y":0.197},{"l":4,"s":3,"x":0.31,"y":0.202},{"l":4,"s":3,"x":0.301,"y":0.213},{"l":4,"s":3,"x":0.353,"y":0.24},{"l":4,"s":3,"x":0.43,"y":0.258},
{"l":5,"s":3,"x":0.45,"y":0.248},{"l":5,"s":3,"x":0.53,"y":0.255},{"l":5,"s":3,"x":0.62,"y":0.25},{"l":5,"s":3,"x":0.7,"y":0.242},{"l":5,"s":3,"x":0.785,"y":0.228},{"l":5,"s":3,"x":0.86,"y":0.2},{"l":5,"s":3,"x":0.93,"y":0.165},{"l":5,"s":3,"x":0.975,"y":0.122},{"l":5,"s":3,"x":1,"y":0.09},{"l":5,"s":3,"x":0.98,"y":0.068},{"l":5,"s":3,"x":0.92,"y":0.068},{"l":5,"s":3,"x":0.87,"y":0.075},{"l":5,"s":3,"x":0.84,"y":0.09},{"l":5,"s":3,"x":0.83,"y":0.115},{"l":5,"s":3,"x":0.77,"y":0.142},{"l":5,"s":3,"x":0.72,"y":0.165},{"l":5,"s":3,"x":0.68,"y":0.18},{"l":5,"s":3,"x":0.6,"y":0.2},{"l":5,"s":3,"x":0.5,"y":0.205},{"l":5,"s":3,"x":0.4,"y":0.208},{"l":5,"s":3,"x":0.33,"y":0.215},{"l":5,"s":3,"x":0.32,"y":0.225},{"l":5,"s":3,"x":0.37,"y":0.24},
{"l":6,"s":3,"x":0.43,"y":0.243},{"l":6,"s":3,"x":0.52,"y":0.245},{"l":6,"s":3,"x":0.6,"y":0.238},{"l":6,"s":3,"x":0.69,"y":0.232},{"l":6,"s":3,"x":0.78,"y":0.22},{"l":6,"s":3,"x":0.855,"y":0.193},{"l":6,"s":3,"x":0.925,"y":0.16},{"l":6,"s":3,"x":0.965,"y":0.118},{"l":6,"s":3,"x":0.99,"y":0.088},{"l":6,"s":3,"x":0.97,"y":0.07},{"l":6,"s":3,"x":0.92,"y":0.07},{"l":6,"s":3,"x":0.87,"y":0.08},{"l":6,"s":3,"x":0.85,"y":0.095},{"l":6,"s":3,"x":0.845,"y":0.12},{"l":6,"s":3,"x":0.79,"y":0.15},{"l":6,"s":3,"x":0.74,"y":0.17},{"l":6,"s":3,"x":0.69,"y":0.19},{"l":6,"s":3,"x":0.6,"y":0.208},{"l":6,"s":3,"x":0.5,"y":0.215},{"l":6,"s":3,"x":0.4,"y":0.215},{"l":6,"s":3,"x":0.355,"y":0.225},{"l":6,"s":3,"x":0.38,"y":0.238},
{"l":8,"s":3,"x":0.6,"y":0.225},{"l":8,"s":3,"x":0.69,"y":0.228},{"l":8,"s":3,"x":0.77,"y":0.215},{"l":8,"s":3,"x":0.845,"y":0.185},{"l":8,"s":3,"x":0.93,"y":0.155},{"l":8,"s":3,"x":0.96,"y":0.115},{"l":8,"s":3,"x":0.98,"y":0.088},{"l":8,"s":3,"x":0.96,"y":0.07},{"l":8,"s":3,"x":0.915,"y":0.072},{"l":8,"s":3,"x":0.875,"y":0.085},{"l":8,"s":3,"x":0.86,"y":0.1},{"l":8,"s":3,"x":0.855,"y":0.125},{"l":8,"s":3,"x":0.8,"y":0.155},{"l":8,"s":3,"x":0.75,"y":0.18},{"l":8,"s":3,"x":0.69,"y":0.2},{"l":8,"s":3,"x":0.62,"y":0.213},
{"l":9,"s":3,"x":0.933,"y":0.1236},{"l":9,"s":3,"x":0.938,"y":0.1438},{"l":9,"s":3,"x":0.897,"y":0.1698},{"l":9,"s":3,"x":0.833,"y":0.1864},{"l":9,"s":3,"x":0.783,"y":0.1844},{"l":9,"s":3,"x":0.778,"y":0.1642},{"l":9,"s":3,"x":0.819,"y":0.1382},{"l":9,"s":3,"x":0.883,"y":0.1216},
{"l":9,"s":4,"x":0.969,"y":0.0758},{"l":9,"s":4,"x":0.977,"y":0.0914},{"l":9,"s":4,"x":0.951,"y":0.1099},{"l":9,"s":4,"x":0.905,"y":0.1204},{"l":9,"s":4,"x":0.867,"y":0.1172},{"l":9,"s":4,"x":0.859,"y":0.1016},{"l":9,"s":4,"x":0.885,"y":0.0831},{"l":9,"s":4,"x":0.931,"y":0.0726},
{"l":10,"s":3,"x":0.921,"y":0.1285},{"l":10,"s":3,"x":0.925,"y":0.1455},{"l":10,"s":3,"x":0.891,"y":0.1674},{"l":10,"s":3,"x":0.837,"y":0.1813},{"l":10,"s":3,"x":0.795,"y":0.1795},{"l":10,"s":3,"x":0.791,"y":0.1625},{"l":10,"s":3,"x":0.825,"y":0.1406},{"l":10,"s":3,"x":0.879,"y":0.1267},
{"l":10,"s":4,"x":0.959,"y":0.08},{"l":10,"s":4,"x":0.966,"y":0.0926},{"l":10,"s":4,"x":0.945,"y":0.1075},{"l":10,"s":4,"x":0.908,"y":0.1158},{"l":10,"s":4,"x":0.877,"y":0.113},{"l":10,"s":4,"x":0.87,"y":0.1004},{"l":10,"s":4,"x":0.891,"y":0.0855},{"l":10,"s":4,"x":0.928,"y":0.0772},
{"l":11,"s":3,"x":0.909,"y":0.1333},{"l":11,"s":3,"x":0.913,"y":0.1471},{"l":11,"s":3,"x":0.885,"y":0.1649},{"l":11,"s":3,"x":0.841,"y":0.1761},{"l":11,"s":3,"x":0.807,"y":0.1747},{"l":11,"s":3,"x":0.803,"y":0.1609},{"l":11,"s":3,"x":0.831,"y":0.1431},{"l":11,"s":3,"x":0.875,"y":0.1319},
{"l":11,"s":4,"x":0.951,"y":0.0831},{"l":11,"s":4,"x":0.956,"y":0.0932},{"l":11,"s":4,"x":0.94,"y":0.1052},{"l":11,"s":4,"x":0.91,"y":0.112},{"l":11,"s":4,"x":0.885,"y":0.1099},{"l":11,"s":4,"x":0.88,"y":0.0998},{"l":11,"s":4,"x":0.896,"y":0.0878},{"l":11,"s":4,"x":0.926,"y":0.081},
{"l":12,"s":3,"x":0.897,"y":0.1382},{"l":12,"s":3,"x":0.899,"y":0.1485},{"l":12,"s":3,"x":0.878,"y":0.162},{"l":12,"s":3,"x":0.845,"y":0.1707},{"l":12,"s":3,"x":0.819,"y":0.1698},{"l":12,"s":3,"x":0.817,"y":0.1595},{"l":12,"s":3,"x":0.838,"y":0.146},{"l":12,"s":3,"x":0.871,"y":0.1373},
{"l":12,"s":4,"x":0.943,"y":0.0863},{"l":12,"s":4,"x":0.947,"y":0.094},{"l":12,"s":4,"x":0.934,"y":0.1031},{"l":12,"s":4,"x":0.912,"y":0.1082},{"l":12,"s":4,"x":0.893,"y":0.1067},{"l":12,"s":4,"x":0.889,"y":0.099},{"l":12,"s":4,"x":0.902,"y":0.0899},{"l":12,"s":4,"x":0.924,"y":0.0848},
{"l":13,"s":3,"x":0.885,"y":0.1431},{"l":13,"s":3,"x":0.886,"y":0.1501},{"l":13,"s":3,"x":0.871,"y":0.1593},{"l":13,"s":3,"x":0.849,"y":0.1653},{"l":13,"s":3,"x":0.831,"y":0.1649},{"l":13,"s":3,"x":0.829,"y":0.1579},{"l":13,"s":3,"x":0.845,"y":0.1487},{"l":13,"s":3,"x":0.867,"y":0.1427},
{"l":13,"s":4,"x":0.935,"y":0.0897},{"l":13,"s":4,"x":0.937,"y":0.0948},{"l":13,"s":4,"x":0.929,"y":0.1009},{"l":13,"s":4,"x":0.914,"y":0.1044},{"l":13,"s":4,"x":0.901,"y":0.1033},{"l":13,"s":4,"x":0.899,"y":0.0982},{"l":13,"s":4,"x":0.907,"y":0.0921},{"l":13,"s":4,"x":0.922,"y":0.0886},
{"l":14,"s":3,"x":0.871,"y":0.1487},{"l":14,"s":3,"x":0.872,"y":0.1521},{"l":14,"s":3,"x":0.865,"y":0.1567},{"l":14,"s":3,"x":0.854,"y":0.1596},{"l":14,"s":3,"x":0.845,"y":0.1593},{"l":14,"s":3,"x":0.844,"y":0.1559},{"l":14,"s":3,"x":0.851,"y":0.1513},{"l":14,"s":3,"x":0.862,"y":0.1483},
{"l":14,"s":4,"x":0.927,"y":0.0929},{"l":14,"s":4,"x":0.926,"y":0.0963},{"l":14,"s":4,"x":0.918,"y":0.0984},{"l":14,"s":4,"x":0.909,"y":0.1001},{"l":14,"s":4,"x":0.909,"y":0.0968},{"l":14,"s":4,"x":0.916,"y":0.0946}
],
"sig":[{"x":-0.176,"y":0.186,"t":"σ"}],
"sub":[{"x":-0.163,"y":0.2013,"t":"E"}],
"star":[{"x":-0.169,"y":0.2148,"t":"*"}]
},
"concat":[
{"width":395,"height":384.5,"layer":[
{"data":{"name":"A"},"transform":[{"window":[{"op":"row_number","as":"i"}]}],"mark":{"type":"line","clip":true,"interpolate":"cardinal-closed","tension":0,"stroke":null,"strokeWidth":0},"encoding":{"x":{"field":"x","type":"quantitative","scale":{"domain":[-0.01,1.01],"nice":false,"zero":false},"axis":{"values":[0,0.2,0.4,0.6,0.8,1],"format":".1f","title":"E\u2009*","titlePadding":0,"labelPadding":3}},"y":{"field":"y","type":"quantitative","scale":{"domain":[0,0.4],"nice":false,"zero":false},"axis":{"values":[0,0.05,0.1,0.15,0.2,0.25,0.3,0.35,0.4],"format":".2f","title":null}},"fill":{"field":"l","type":"ordinal","legend":null,"scale":{"domain":[0,1,2,3,4,5,6,7,8,9,10,11,12,13,14],"range":["#3d7db8","#4597b5","#55aeae","#79c8a4","#a0d9a3","#c2e59e","#e4f39d","#f3f9a8","#fdf5ae","#fee08b","#fdb567","#f6824d","#e3554a","#c3304f","#a80f4a"]}},"detail":{"field":"s"},"order":{"field":"i","type":"quantitative"}}},
{"data":{"name":"arc"},"mark":{"type":"line","color":"black","strokeWidth":3.6,"strokeDash":[12,5],"interpolate":"monotone"},"encoding":{"x":{"field":"x","type":"quantitative"},"y":{"field":"y","type":"quantitative"}}},
{"data":{"name":"triA"},"mark":{"type":"point","shape":"triangle-up","filled":true,"fill":"white","stroke":"#111111","strokeWidth":1.4,"size":160,"opacity":1},"encoding":{"x":{"field":"x","type":"quantitative"},"y":{"field":"y","type":"quantitative"}}},
{"data":{"values":[{"x":0.004,"y":0.364,"t":"SCP-HD1"}]},"mark":{"type":"text","font":"Lato","fontWeight":"bold","fontSize":35.5,"align":"left","baseline":"alphabetic","color":"black"},"encoding":{"x":{"field":"x","type":"quantitative"},"y":{"field":"y","type":"quantitative"},"text":{"field":"t"}}},
{"data":{"name":"sig"},"mark":{"type":"text","fontStyle":"italic","fontSize":32,"angle":270,"align":"center","baseline":"alphabetic","color":"#222222"},"encoding":{"x":{"field":"x","type":"quantitative"},"y":{"field":"y","type":"quantitative"},"text":{"field":"t"}}},
{"data":{"name":"sub"},"mark":{"type":"text","fontStyle":"italic","fontSize":18.5,"angle":270,"align":"center","baseline":"alphabetic","color":"#222222"},"encoding":{"x":{"field":"x","type":"quantitative"},"y":{"field":"y","type":"quantitative"},"text":{"field":"t"}}},
{"data":{"name":"star"},"mark":{"type":"text","fontSize":22,"angle":270,"align":"center","baseline":"alphabetic","color":"#222222"},"encoding":{"x":{"field":"x","type":"quantitative"},"y":{"field":"y","type":"quantitative"},"text":{"field":"t"}}}
]},
{"width":395,"height":384.5,"layer":[
{"data":{"name":"B"},"transform":[{"window":[{"op":"row_number","as":"i"}]}],"mark":{"type":"line","clip":true,"interpolate":"cardinal-closed","tension":0,"stroke":null,"strokeWidth":0},"encoding":{"x":{"field":"x","type":"quantitative","scale":{"domain":[-0.01,1.01],"nice":false,"zero":false},"axis":{"values":[0,0.2,0.4,0.6,0.8,1],"format":".1f","title":"E\u2009*","titlePadding":0,"labelPadding":3}},"y":{"field":"y","type":"quantitative","scale":{"domain":[0,0.4],"nice":false,"zero":false},"axis":{"values":[0,0.05,0.1,0.15,0.2,0.25,0.3,0.35,0.4],"format":".2f","title":null}},"fill":{"field":"l","type":"ordinal","legend":null,"scale":{"domain":[0,1,2,3,4,5,6,7,8,9,10,11,12,13,14],"range":["#3d7db8","#4597b5","#55aeae","#79c8a4","#a0d9a3","#c2e59e","#e4f39d","#f3f9a8","#fdf5ae","#fee08b","#fdb567","#f6824d","#e3554a","#c3304f","#a80f4a"]}},"detail":{"field":"s"},"order":{"field":"i","type":"quantitative"}}},
{"data":{"name":"arc"},"mark":{"type":"line","color":"black","strokeWidth":3.6,"strokeDash":[12,5],"interpolate":"monotone"},"encoding":{"x":{"field":"x","type":"quantitative"},"y":{"field":"y","type":"quantitative"}}},
{"data":{"name":"triB"},"mark":{"type":"point","shape":"triangle-up","filled":true,"fill":"white","stroke":"#111111","strokeWidth":1.4,"size":160,"opacity":1},"encoding":{"x":{"field":"x","type":"quantitative"},"y":{"field":"y","type":"quantitative"}}},
{"data":{"values":[{"x":0.009,"y":0.364,"t":"SCP-HD1 + min. Sys."}]},"mark":{"type":"text","font":"Lato","fontWeight":"bold","fontSize":35.5,"align":"left","baseline":"alphabetic","color":"black"},"encoding":{"x":{"field":"x","type":"quantitative"},"y":{"field":"y","type":"quantitative"},"text":{"field":"t"}}},
{"data":{"name":"sig"},"mark":{"type":"text","fontStyle":"italic","fontSize":32,"angle":270,"align":"center","baseline":"alphabetic","color":"#222222"},"encoding":{"x":{"field":"x","type":"quantitative"},"y":{"field":"y","type":"quantitative"},"text":{"field":"t"}}},
{"data":{"name":"sub"},"mark":{"type":"text","fontStyle":"italic","fontSize":18.5,"angle":270,"align":"center","baseline":"alphabetic","color":"#222222"},"encoding":{"x":{"field":"x","type":"quantitative"},"y":{"field":"y","type":"quantitative"},"text":{"field":"t"}}},
{"data":{"name":"star"},"mark":{"type":"text","fontSize":22,"angle":270,"align":"center","baseline":"alphabetic","color":"#222222"},"encoding":{"x":{"field":"x","type":"quantitative"},"y":{"field":"y","type":"quantitative"},"text":{"field":"t"}}}
]},
{"width":395,"height":384.5,"layer":[
{"data":{"name":"C"},"transform":[{"window":[{"op":"row_number","as":"i"}]}],"mark":{"type":"line","clip":true,"interpolate":"cardinal-closed","tension":0,"stroke":null,"strokeWidth":0},"encoding":{"x":{"field":"x","type":"quantitative","scale":{"domain":[-0.01,1.01],"nice":false,"zero":false},"axis":{"values":[0,0.2,0.4,0.6,0.8,1],"format":".1f","title":"E\u2009*","titlePadding":0,"labelPadding":3}},"y":{"field":"y","type":"quantitative","scale":{"domain":[0,0.4],"nice":false,"zero":false},"axis":{"values":[0,0.05,0.1,0.15,0.2,0.25,0.3,0.35,0.4],"format":".2f","title":null}},"fill":{"field":"l","type":"ordinal","legend":null,"scale":{"domain":[0,1,2,3,4,5,6,7,8,9,10,11,12,13,14],"range":["#3d7db8","#4597b5","#55aeae","#79c8a4","#a0d9a3","#c2e59e","#e4f39d","#f3f9a8","#fdf5ae","#fee08b","#fdb567","#f6824d","#e3554a","#c3304f","#a80f4a"]}},"detail":{"field":"s"},"order":{"field":"i","type":"quantitative"}}},
{"data":{"name":"arc"},"mark":{"type":"line","color":"black","strokeWidth":3.6,"strokeDash":[12,5],"interpolate":"monotone"},"encoding":{"x":{"field":"x","type":"quantitative"},"y":{"field":"y","type":"quantitative"}}},
{"data":{"name":"triC"},"mark":{"type":"point","shape":"triangle-up","filled":true,"fill":"white","stroke":"#111111","strokeWidth":1.4,"size":160,"opacity":1},"encoding":{"x":{"field":"x","type":"quantitative"},"y":{"field":"y","type":"quantitative"}}},
{"data":{"values":[{"x":0.003,"y":0.367,"t":"SCP-HD1 + min. Sys."}]},"mark":{"type":"text","font":"Lato","fontWeight":"bold","fontSize":35.5,"align":"left","baseline":"alphabetic","color":"black"},"encoding":{"x":{"field":"x","type":"quantitative"},"y":{"field":"y","type":"quantitative"},"text":{"field":"t"}}},
{"data":{"values":[{"x":0.01,"y":0.323,"t":"+NTP"}]},"mark":{"type":"text","font":"Lato","fontWeight":"bold","fontSize":34,"align":"left","baseline":"alphabetic","color":"#ee1c25"},"encoding":{"x":{"field":"x","type":"quantitative"},"y":{"field":"y","type":"quantitative"},"text":{"field":"t"}}},
{"data":{"name":"sig"},"mark":{"type":"text","fontStyle":"italic","fontSize":32,"angle":270,"align":"center","baseline":"alphabetic","color":"#222222"},"encoding":{"x":{"field":"x","type":"quantitative"},"y":{"field":"y","type":"quantitative"},"text":{"field":"t"}}},
{"data":{"name":"sub"},"mark":{"type":"text","fontStyle":"italic","fontSize":18.5,"angle":270,"align":"center","baseline":"alphabetic","color":"#222222"},"encoding":{"x":{"field":"x","type":"quantitative"},"y":{"field":"y","type":"quantitative"},"text":{"field":"t"}}},
{"data":{"name":"star"},"mark":{"type":"text","fontSize":22,"angle":270,"align":"center","baseline":"alphabetic","color":"#222222"},"encoding":{"x":{"field":"x","type":"quantitative"},"y":{"field":"y","type":"quantitative"},"text":{"field":"t"}}}
]},
{"width":395,"height":384.5,"layer":[
{"data":{"name":"D"},"transform":[{"window":[{"op":"row_number","as":"i"}]}],"mark":{"type":"line","clip":true,"interpolate":"cardinal-closed","tension":0,"stroke":null,"strokeWidth":0},"encoding":{"x":{"field":"x","type":"quantitative","scale":{"domain":[-0.01,1.01],"nice":false,"zero":false},"axis":{"values":[0,0.2,0.4,0.6,0.8,1],"format":".1f","title":"E\u2009*","titlePadding":0,"labelPadding":3}},"y":{"field":"y","type":"quantitative","scale":{"domain":[0,0.4],"nice":false,"zero":false},"axis":{"values":[0,0.05,0.1,0.15,0.2,0.25,0.3,0.35,0.4],"format":".2f","title":null}},"fill":{"field":"l","type":"ordinal","legend":null,"scale":{"domain":[0,1,2,3,4,5,6,7,8,9,10,11,12,13,14],"range":["#3d7db8","#4597b5","#55aeae","#79c8a4","#a0d9a3","#c2e59e","#e4f39d","#f3f9a8","#fdf5ae","#fee08b","#fdb567","#f6824d","#e3554a","#c3304f","#a80f4a"]}},"detail":{"field":"s"},"order":{"field":"i","type":"quantitative"}}},
{"data":{"name":"arc"},"mark":{"type":"line","color":"black","strokeWidth":3.6,"strokeDash":[12,5],"interpolate":"monotone"},"encoding":{"x":{"field":"x","type":"quantitative"},"y":{"field":"y","type":"quantitative"}}},
{"data":{"name":"triD"},"mark":{"type":"point","shape":"triangle-up","filled":true,"fill":"white","stroke":"#111111","strokeWidth":1.4,"size":160,"opacity":1},"encoding":{"x":{"field":"x","type":"quantitative"},"y":{"field":"y","type":"quantitative"}}},
{"data":{"values":[{"x":-0.01,"y":0.372,"t":"SCP-HD1 + min. Sys."}]},"mark":{"type":"text","font":"Lato","fontWeight":"bold","fontSize":35.5,"align":"left","baseline":"alphabetic","color":"black"},"encoding":{"x":{"field":"x","type":"quantitative"},"y":{"field":"y","type":"quantitative"},"text":{"field":"t"}}},
{"data":{"values":[{"x":0.007,"y":0.324,"t":"+NTP"}]},"mark":{"type":"text","font":"Lato","fontWeight":"bold","fontSize":34,"align":"left","baseline":"alphabetic","color":"#ee1c25"},"encoding":{"x":{"field":"x","type":"quantitative"},"y":{"field":"y","type":"quantitative"},"text":{"field":"t"}}},
{"data":{"values":[{"x":0.843,"y":0.372,"t":"+IIH"}]},"mark":{"type":"text","font":"Lato","fontWeight":"bold","fontSize":34,"align":"left","baseline":"alphabetic","color":"#cc3fc4"},"encoding":{"x":{"field":"x","type":"quantitative"},"y":{"field":"y","type":"quantitative"},"text":{"field":"t"}}},
{"data":{"name":"sig"},"mark":{"type":"text","fontStyle":"italic","fontSize":32,"angle":270,"align":"center","baseline":"alphabetic","color":"#222222"},"encoding":{"x":{"field":"x","type":"quantitative"},"y":{"field":"y","type":"quantitative"},"text":{"field":"t"}}},
{"data":{"name":"sub"},"mark":{"type":"text","fontStyle":"italic","fontSize":18.5,"angle":270,"align":"center","baseline":"alphabetic","color":"#222222"},"encoding":{"x":{"field":"x","type":"quantitative"},"y":{"field":"y","type":"quantitative"},"text":{"field":"t"}}},
{"data":{"name":"star"},"mark":{"type":"text","fontSize":22,"angle":270,"align":"center","baseline":"alphabetic","color":"#222222"},"encoding":{"x":{"field":"x","type":"quantitative"},"y":{"field":"y","type":"quantitative"},"text":{"field":"t"}}}
]}
]}
